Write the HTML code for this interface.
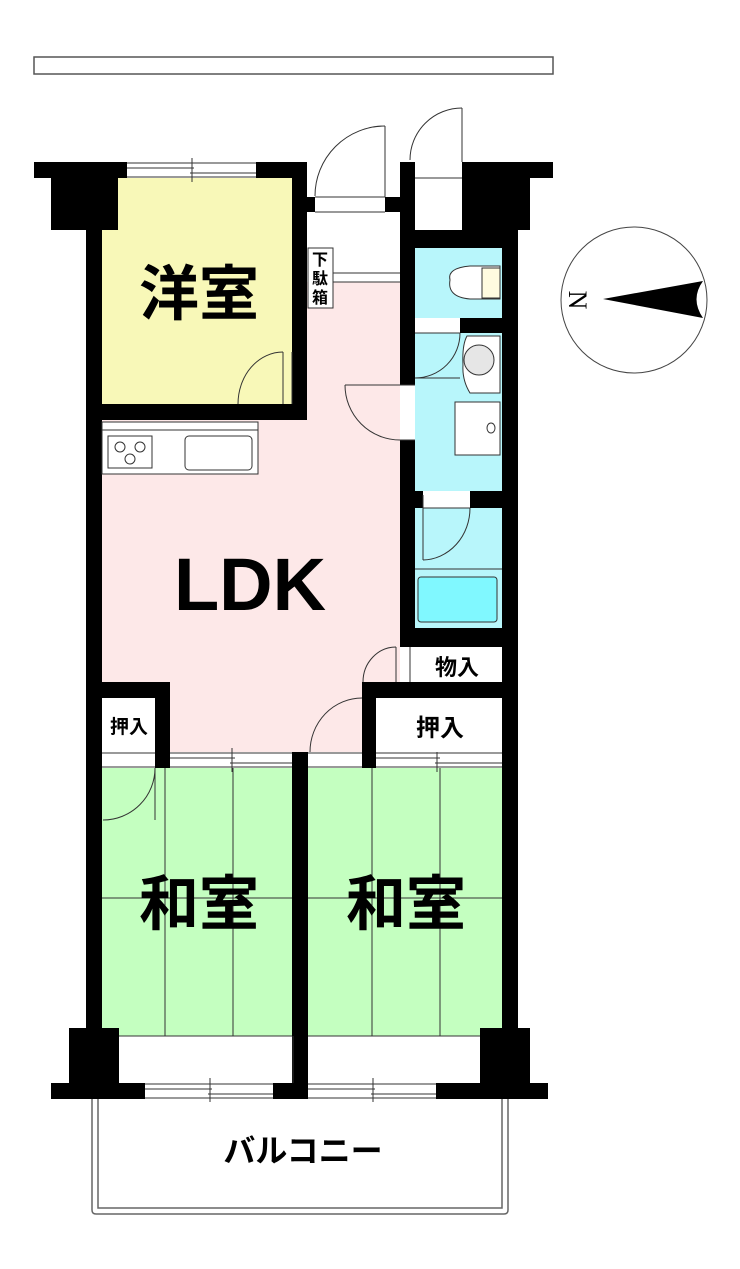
<!DOCTYPE html>
<html><head><meta charset="utf-8"><style>
html,body{margin:0;padding:0;background:#fff;}
svg{display:block;}
text{font-family:"Liberation Sans","Noto Sans CJK JP",sans-serif;font-weight:bold;}
</style></head><body>
<svg width="740" height="1269" viewBox="0 0 740 1269" xmlns="http://www.w3.org/2000/svg">
<rect x="34" y="57" width="519" height="17" fill="#fff" stroke="#555" stroke-width="1.5"/>
<rect x="102" y="178" width="190" height="227" fill="#f8f8b8"/>
<rect x="307" y="282" width="93" height="140" fill="#fde8e8"/>
<rect x="102" y="420" width="298" height="332" fill="#fde8e8"/>
<rect x="170" y="682" width="192" height="70" fill="#fde8e8"/>
<rect x="415" y="248" width="87" height="70" fill="#b8f6fb"/>
<rect x="415" y="333" width="87" height="158" fill="#b8f6fb"/>
<rect x="415" y="508" width="87" height="120" fill="#b8f6fb"/>
<rect x="102" y="768" width="190" height="268" fill="#c4ffc0"/>
<rect x="308" y="768" width="194" height="268" fill="#c4ffc0"/>
<g stroke="#333" stroke-width="1" fill="none">
<line x1="165" y1="768" x2="165" y2="1036"/><line x1="233" y1="768" x2="233" y2="1036"/><line x1="102" y1="898" x2="292" y2="898"/>
<line x1="372" y1="768" x2="372" y2="1036"/><line x1="440" y1="768" x2="440" y2="1036"/><line x1="308" y1="898" x2="502" y2="898"/>
<line x1="102" y1="1036" x2="502" y2="1036"/>
</g>
<g fill="#000">
<rect x="34" y="162" width="93" height="16"/>
<rect x="256" y="162" width="51" height="16"/>
<rect x="51" y="178" width="67" height="52"/>
<rect x="86" y="178" width="16" height="860"/>
<rect x="292" y="162" width="15" height="258"/>
<rect x="86" y="404" width="221" height="16"/>
<rect x="307" y="197" width="8" height="15"/>
<rect x="385" y="197" width="15" height="15"/>
<rect x="400" y="162" width="15" height="223"/>
<rect x="462" y="162" width="91" height="16"/>
<rect x="462" y="178" width="68" height="52"/>
<rect x="415" y="230" width="103" height="18"/>
<rect x="502" y="178" width="16" height="860"/>
<rect x="460" y="318" width="58" height="15"/>
<rect x="400" y="440" width="15" height="207"/>
<rect x="415" y="491" width="8" height="17"/><rect x="470" y="491" width="48" height="17"/>
<rect x="400" y="628" width="118" height="19"/>
<rect x="362" y="682" width="156" height="16"/>
<rect x="362" y="682" width="14" height="86"/>
<rect x="86" y="682" width="84" height="16"/>
<rect x="155" y="682" width="15" height="86"/>
<rect x="292" y="752" width="16" height="346"/>
<rect x="69" y="1028" width="50" height="55"/>
<rect x="480" y="1028" width="50" height="55"/>
<rect x="51" y="1083" width="94" height="16"/>
<rect x="273" y="1083" width="35" height="16"/>
<rect x="436" y="1083" width="112" height="16"/>
</g>
<g stroke="#333" stroke-width="1" fill="none">
<line x1="127" y1="163" x2="256" y2="163"/><line x1="127" y1="177" x2="256" y2="177"/>
<line x1="127" y1="168" x2="194" y2="168"/><line x1="190" y1="173" x2="256" y2="173"/><line x1="192" y1="158" x2="192" y2="182"/>
<line x1="145" y1="1084" x2="273" y2="1084"/><line x1="145" y1="1098" x2="273" y2="1098"/><line x1="145" y1="1089" x2="212" y2="1089"/><line x1="208" y1="1094" x2="273" y2="1094"/><line x1="210" y1="1078" x2="210" y2="1102"/>
<line x1="308" y1="1084" x2="436" y2="1084"/><line x1="308" y1="1098" x2="436" y2="1098"/><line x1="308" y1="1089" x2="375" y2="1089"/><line x1="371" y1="1094" x2="436" y2="1094"/><line x1="373" y1="1078" x2="373" y2="1102"/>
<line x1="170" y1="753" x2="292" y2="753"/><line x1="170" y1="767" x2="292" y2="767"/><line x1="170" y1="758" x2="235" y2="758"/><line x1="230" y1="763" x2="292" y2="763"/><line x1="232" y1="748" x2="232" y2="772"/>
<line x1="376" y1="753" x2="502" y2="753"/><line x1="376" y1="767" x2="502" y2="767"/><line x1="376" y1="758" x2="440" y2="758"/><line x1="435" y1="763" x2="502" y2="763"/><line x1="437" y1="748" x2="437" y2="772"/>
<line x1="102" y1="753" x2="155" y2="753"/><line x1="102" y1="767" x2="155" y2="767"/>
<line x1="308" y1="753" x2="362" y2="753"/><line x1="308" y1="767" x2="362" y2="767"/>
<line x1="315" y1="197" x2="385" y2="197"/><line x1="315" y1="212" x2="385" y2="212"/>
<line x1="385" y1="126" x2="385" y2="197"/><path d="M385,126 A70,70 0 0 0 315,196"/>
<line x1="462" y1="108" x2="462" y2="162"/><path d="M462,108 A52,52 0 0 0 410,160"/>
<line x1="415" y1="178" x2="462" y2="178"/>
<line x1="315" y1="273" x2="400" y2="273"/><line x1="315" y1="282" x2="400" y2="282"/>
<line x1="292" y1="352" x2="292" y2="404"/><line x1="283" y1="352" x2="283" y2="404"/><path d="M283,352 A45,52 0 0 0 238,404"/>
<path d="M345,385 A55,55 0 0 0 400,440" /><line x1="345" y1="385" x2="400" y2="385"/><line x1="400" y1="385" x2="415" y2="385"/><line x1="400" y1="440" x2="415" y2="440"/>
<line x1="415" y1="333" x2="460" y2="333"/><line x1="415" y1="378" x2="460" y2="378"/><path d="M460,333 A45,45 0 0 1 415,378"/>
<line x1="423" y1="495" x2="423" y2="560"/><path d="M470,508 A48,52 0 0 1 423,560"/><line x1="423" y1="508" x2="470" y2="508"/>
<line x1="415" y1="569" x2="502" y2="569"/>
<line x1="396" y1="647" x2="396" y2="682"/><line x1="410" y1="647" x2="410" y2="682"/><path d="M396,647 A33,35 0 0 0 363,682"/>
<path d="M362,698 A52,54 0 0 0 310,752"/>
<path d="M155,768 A52,52 0 0 1 103,820"/>
<line x1="155" y1="768" x2="155" y2="820"/>
<line x1="293" y1="1036" x2="293" y2="1083"/>
</g>
<rect x="418" y="577" width="79" height="45" rx="3" fill="#80f8ff" stroke="#333"/>
<rect x="308" y="248" width="25" height="60" fill="#fff" stroke="#333"/>
<text x="320" y="265" font-size="16" text-anchor="middle">下</text>
<text x="320" y="284" font-size="16" text-anchor="middle">駄</text>
<text x="320" y="303" font-size="16" text-anchor="middle">箱</text>
<rect x="102" y="422" width="156" height="52" fill="#fff" stroke="#333"/>
<line x1="102" y1="430" x2="258" y2="430" stroke="#333"/>
<rect x="108" y="436" width="44" height="32" fill="#fff" stroke="#333"/>
<circle cx="120" cy="447" r="5" fill="none" stroke="#333"/><circle cx="140" cy="447" r="5" fill="none" stroke="#333"/><circle cx="130" cy="459" r="5" fill="none" stroke="#333"/>
<rect x="185" y="436" width="67" height="34" rx="4" fill="#fff" stroke="#333"/>
<path d="M450,280 Q447,268 470,266 L500,266 L500,299 L470,299 Q447,297 450,280 Z" fill="#fff" stroke="#333"/>
<rect x="482" y="268" width="18" height="30" fill="#fffbe0" stroke="#333"/>
<path d="M467,336 L500,336 L500,393 L470,393 Q462,380 463,365 Q462,345 467,336Z" fill="#fff" stroke="#333"/>
<circle cx="479" cy="360" r="15" fill="#e6e6e6" stroke="#333"/>
<rect x="455" y="402" width="45" height="53" fill="#fff" stroke="#333"/>
<ellipse cx="491" cy="428" rx="4" ry="5" fill="none" stroke="#333"/>
<rect x="102" y="698" width="53" height="54" fill="#fff"/>
<rect x="376" y="698" width="126" height="54" fill="#fff"/>
<text x="129" y="733" font-size="19" text-anchor="middle">押入</text>
<text x="440" y="736" font-size="24" text-anchor="middle">押入</text>
<text x="457" y="675" font-size="22" text-anchor="middle">物入</text>
<path d="M92,1099 V1210 Q92,1214 96,1214 H504 Q508,1214 508,1210 V1099" fill="none" stroke="#666" stroke-width="1.5"/>
<path d="M98,1099 V1208 H502 V1099" fill="none" stroke="#666" stroke-width="1.5"/>
<text x="303" y="1162" font-size="32" text-anchor="middle">バルコニー</text>
<text x="199" y="315" font-size="60" text-anchor="middle">洋室</text>
<text x="250" y="610" font-size="74" text-anchor="middle">LDK</text>
<text x="199" y="925" font-size="60" text-anchor="middle">和室</text>
<text x="406" y="925" font-size="60" text-anchor="middle">和室</text>
<circle cx="634" cy="300" r="73" fill="#fff" stroke="#444" stroke-width="1"/>
<path d="M603,299 L703,281 Q690,299 703,318 Z" fill="#000"/>
<text x="578" y="300" font-size="26" text-anchor="middle" transform="rotate(90 578 300)" style="font-family:'Liberation Serif',serif;font-weight:normal" dy="9">N</text>
</svg>
</body></html>
